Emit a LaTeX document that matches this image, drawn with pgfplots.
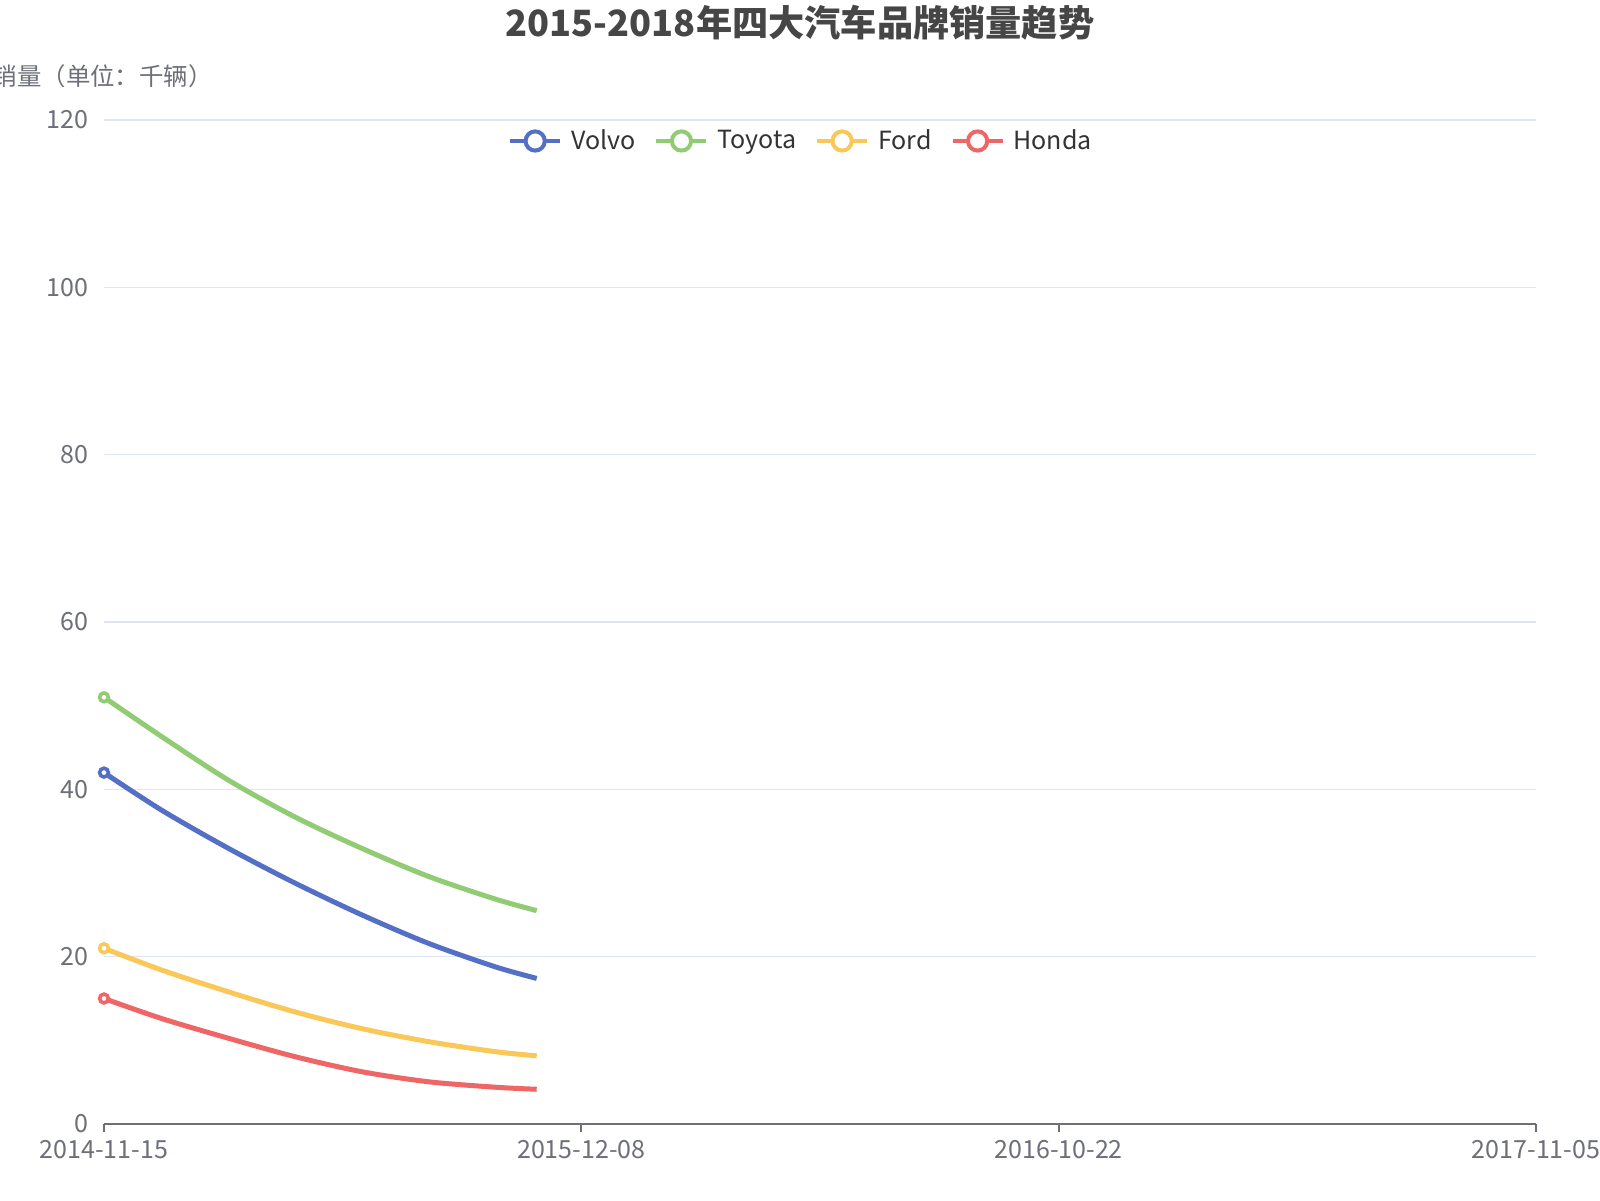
\documentclass[border=0pt]{standalone}
\usepackage{pgfplots}
\pgfplotsset{compat=1.18}
\usepackage{fontspec}
\setmainfont{Noto Sans CJK SC}

\definecolor{cVolvo}{HTML}{5470C6}
\definecolor{cToyota}{HTML}{91CC75}
\definecolor{cFord}{HTML}{FAC858}
\definecolor{cHonda}{HTML}{EE6666}
\definecolor{axisc}{HTML}{6E7079}
\definecolor{gridc}{HTML}{E0E6F1}
\definecolor{titlec}{HTML}{464646}
\definecolor{legendc}{HTML}{333333}

\begin{document}
\begin{tikzpicture}
\path[use as bounding box, fill=white] (0,0) rectangle (800pt,600pt);

% title and y axis name
\node[anchor=center, text=titlec, font=\fontsize{18.1}{21}\selectfont\bfseries]
  at (400pt,588.5pt) {2015-2018年四大汽车品牌销量趋势};
\node[anchor=east, text=axisc, inner sep=0pt, font=\fontsize{12.2}{14}\selectfont]
  at (106.5pt,562pt) {销量（单位：千辆）};

\begin{axis}[%
at={(52pt,38pt)}, anchor=south west,
scale only axis,
width=716pt,
height=502pt,
xmin=0, xmax=3,
ymin=0, ymax=120,
xtick={0,1,2,3},
xticklabels={2014-11-15,2015-12-08,2016-10-22,2017-11-05},
ytick={0,20,...,120},
axis x line=bottom,
axis y line=left,
axis line style={-},
x axis line style={draw=axisc, line width=1pt},
y axis line style={draw=none},
ytick style={draw=none},
xtick style={draw=axisc, line width=1pt},
tick align=outside,
major tick length=4pt,
ymajorgrids,
grid style={color=gridc, line width=0.6pt},
ticklabel style={font=\fontsize{12.5}{15}\selectfont, text=axisc, inner sep=0pt},
/pgf/number format/assume math mode=true,
xticklabel style={yshift=-4pt},
yticklabel style={xshift=-3.5pt},
legend columns=-1,
legend style={at={(0.5,1)}, anchor=center, yshift=-10.5pt, xshift=-9pt,
  draw=none, fill=none, text=legendc, font=\fontsize{12.5}{15}\selectfont,
  /tikz/every odd column/.append style={column sep=2.5pt},
  /tikz/every even column/.append style={column sep=7.5pt}},
legend image code/.code={
  \draw[line width=2pt] (0pt,0pt) -- (25pt,0pt);
  \draw[line width=2pt, fill=white] (12.5pt,0pt) circle (4.8pt);
},
every axis plot/.append style={line width=2.5pt, smooth, tension=0.5},
]

\addplot [color=cVolvo, mark=*, mark size=2.2pt, mark indices={1}, mark options={fill=white, line width=1.8pt}]
  coordinates {(0,42) (0.121,37.5) (0.2605,32.95) (0.400,28.8) (0.540,25.0) (0.6795,21.6) (0.819,18.8) (0.9065,17.4)};
\addlegendentry{Volvo}

\addplot [color=cToyota, mark=*, mark size=2.2pt, mark indices={1}, mark options={fill=white, line width=1.8pt}]
  coordinates {(0,51) (0.121,46.3) (0.2605,41.1) (0.400,36.7) (0.540,32.95) (0.6795,29.6) (0.819,26.9) (0.9065,25.5)};
\addlegendentry{Toyota}

\addplot [color=cFord, mark=*, mark size=2.2pt, mark indices={1}, mark options={fill=white, line width=1.8pt}]
  coordinates {(0,21) (0.121,18.4) (0.2605,15.8) (0.400,13.4) (0.540,11.4) (0.6795,9.85) (0.819,8.65) (0.9065,8.15)};
\addlegendentry{Ford}

\addplot [color=cHonda, mark=*, mark size=2.2pt, mark indices={1}, mark options={fill=white, line width=1.8pt}]
  coordinates {(0,15) (0.121,12.6) (0.2605,10.25) (0.400,8.05) (0.540,6.25) (0.6795,5.05) (0.819,4.4) (0.9065,4.15)};
\addlegendentry{Honda}

\end{axis}
\end{tikzpicture}
\end{document}
